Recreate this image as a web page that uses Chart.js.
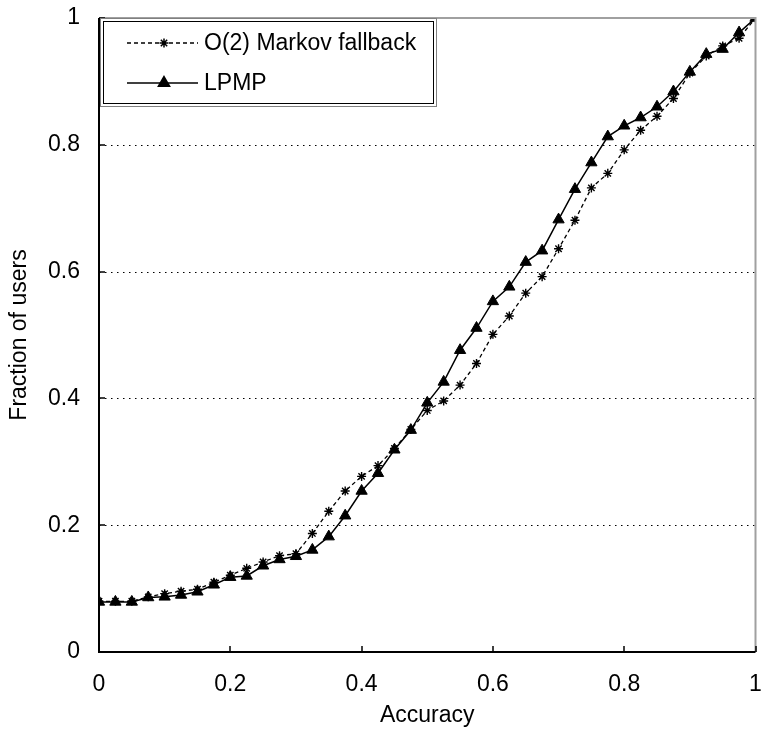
<!DOCTYPE html>
<html>
<head>
<meta charset="utf-8">
<script src="https://cdn.jsdelivr.net/npm/chart.js@4.4.1/dist/chart.umd.min.js"></script>
<style>
  html, body { margin: 0; padding: 0; background: #fff; }
  #wrap { width: 763px; height: 731px; }
</style>
</head>
<body>
<div id="wrap"><canvas id="accChart" width="763" height="731"></canvas></div>
<script>
const accuracy = [0, 0.025, 0.05, 0.075, 0.1, 0.125, 0.15, 0.175, 0.2, 0.225, 0.25, 0.275, 0.3, 0.325, 0.35, 0.375, 0.4, 0.425, 0.45, 0.475, 0.5, 0.525, 0.55, 0.575, 0.6, 0.625, 0.65, 0.675, 0.7, 0.725, 0.75, 0.775, 0.8, 0.825, 0.85, 0.875, 0.9, 0.925, 0.95, 0.975, 1];
const markovFallback = [0.080, 0.080, 0.080, 0.087, 0.092, 0.096, 0.099, 0.110, 0.121, 0.132, 0.142, 0.152, 0.155, 0.187, 0.222, 0.254, 0.277, 0.294, 0.321, 0.351, 0.381, 0.396, 0.421, 0.455, 0.501, 0.530, 0.566, 0.592, 0.636, 0.681, 0.732, 0.755, 0.792, 0.823, 0.845, 0.873, 0.913, 0.940, 0.956, 0.968, 1.0];
const lpmp = [0.079, 0.079, 0.079, 0.086, 0.087, 0.090, 0.095, 0.106, 0.118, 0.120, 0.136, 0.146, 0.151, 0.161, 0.182, 0.215, 0.254, 0.282, 0.319, 0.350, 0.393, 0.426, 0.476, 0.511, 0.553, 0.576, 0.615, 0.633, 0.682, 0.730, 0.772, 0.813, 0.830, 0.843, 0.860, 0.884, 0.915, 0.943, 0.951, 0.977, 1.0];
const xTicks = [0, 0.2, 0.4, 0.6, 0.8, 1];
const yTicks = [0, 0.2, 0.4, 0.6, 0.8, 1];
const gridValues = [0.2, 0.4, 0.6, 0.8];
const seriesNames = ['O(2) Markov fallback', 'LPMP'];

const font = { family: "'Liberation Sans', Arial, sans-serif", size: 23 };

function toPoints(ys) {
  return accuracy.map((x, i) => ({ x, y: ys[i] }));
}

// dotted grid, frame, inward ticks and the boxed legend
const framePlugin = {
  id: 'frame',
  beforeDatasetsDraw(chart) {
    const { ctx, chartArea: a, scales } = chart;
    ctx.save();
    ctx.strokeStyle = '#000';
    ctx.lineWidth = 1;
    ctx.setLineDash([1.5, 4.5]);
    gridValues.forEach(v => {
      const y = Math.round(scales.y.getPixelForValue(v)) + 0.5;
      ctx.beginPath();
      ctx.moveTo(a.left, y);
      ctx.lineTo(a.right, y);
      ctx.stroke();
    });
    ctx.restore();
  },
  afterDatasetsDraw(chart) {
    const { ctx, chartArea: a, scales } = chart;
    ctx.save();
    ctx.lineWidth = 2;
    ctx.strokeStyle = '#a0a0a0';
    ctx.beginPath();
    ctx.moveTo(a.left, a.top);
    ctx.lineTo(a.right, a.top);
    ctx.lineTo(a.right, a.bottom);
    ctx.stroke();
    ctx.strokeStyle = '#000';
    ctx.beginPath();
    ctx.moveTo(a.left, a.top);
    ctx.lineTo(a.left, a.bottom);
    ctx.lineTo(a.right, a.bottom);
    ctx.stroke();
    ctx.lineWidth = 1.5;
    xTicks.forEach(v => {
      const x = Math.round(scales.x.getPixelForValue(v));
      ctx.beginPath();
      ctx.moveTo(x, a.bottom);
      ctx.lineTo(x, a.bottom - 6);
      ctx.stroke();
    });
    yTicks.forEach(v => {
      const y = Math.round(scales.y.getPixelForValue(v));
      ctx.beginPath();
      ctx.moveTo(a.left, y);
      ctx.lineTo(a.left + 6, y);
      ctx.stroke();
    });
    ctx.restore();
  },
  afterDraw(chart) {
    const { ctx } = chart;
    const box = { left: 100, top: 18, right: 436, bottom: 106 };
    ctx.save();
    ctx.fillStyle = '#fff';
    ctx.fillRect(box.left, box.top, box.right - box.left, box.bottom - box.top);
    ctx.lineWidth = 1;
    ctx.strokeStyle = '#808080';
    ctx.strokeRect(box.left + 0.5, box.top + 0.5, box.right - box.left, box.bottom - box.top);
    ctx.strokeStyle = '#000';
    ctx.strokeRect(box.left + 3.5, box.top + 3.5, box.right - box.left - 6, box.bottom - box.top - 6);
    const rows = [43, 83];
    chart.data.datasets.forEach((ds, i) => {
      const y = rows[i];
      ctx.strokeStyle = '#000';
      ctx.lineWidth = 1.5;
      ctx.setLineDash(ds.borderDash || []);
      ctx.beginPath();
      ctx.moveTo(127, y);
      ctx.lineTo(198, y);
      ctx.stroke();
      ctx.setLineDash([]);
      Chart.helpers.drawPoint(ctx, {
        pointStyle: ds.pointStyle, radius: ds.pointRadius, borderWidth: 1.2, rotation: 0
      }, 164, y);
      ctx.fillStyle = '#000';
      ctx.font = `${font.size}px ${font.family}`;
      ctx.textBaseline = 'middle';
      ctx.fillText(ds.label, 204, y + 1);
    });
    ctx.restore();
  }
};

new Chart(document.getElementById('accChart'), {
  type: 'scatter',
  data: {
    datasets: [
      {
        label: seriesNames[0], data: toPoints(markovFallback), showLine: true,
        borderColor: '#000', backgroundColor: '#000', borderWidth: 1.3, borderDash: [4, 3],
        pointStyle: 'star', pointRadius: 4.5, pointBorderWidth: 1.4,
        pointBorderColor: '#000', pointBackgroundColor: '#000'
      },
      {
        label: seriesNames[1], data: toPoints(lpmp), showLine: true,
        borderColor: '#000', backgroundColor: '#000', borderWidth: 1.5,
        pointStyle: 'triangle', pointRadius: 6.5, pointBorderWidth: 1,
        pointBorderColor: '#000', pointBackgroundColor: '#000'
      }
    ]
  },
  options: {
    responsive: false,
    animation: false,
    devicePixelRatio: 1,
    layout: { padding: { left: 0, top: 18, right: 4, bottom: 0 } },
    plugins: { legend: { display: false }, tooltip: { enabled: false } },
    scales: {
      x: {
        type: 'linear', min: 0, max: 1,
        afterBuildTicks: s => { s.ticks = xTicks.map(v => ({ value: v })); },
        afterFit: s => { s.height = 79; s.paddingLeft = 0; s.paddingRight = 0; },
        grid: { display: false, drawTicks: false },
        border: { display: false },
        ticks: { font, color: '#000', padding: 19, maxRotation: 0, callback: v => String(v) },
        title: { display: true, text: 'Accuracy', font, color: '#000', padding: { top: 0, bottom: 2 } }
      },
      y: {
        type: 'linear', min: 0, max: 1,
        afterBuildTicks: s => { s.ticks = yTicks.map(v => ({ value: v })); },
        afterFit: s => { s.width = 99; s.paddingTop = 0; s.paddingBottom = 0; },
        grid: { display: false, drawTicks: false },
        border: { display: false },
        ticks: { font, color: '#000', padding: 19, callback: v => String(v) },
        title: { display: true, text: 'Fraction of users', font, color: '#000', padding: { top: 6, bottom: 0 } }
      }
    }
  },
  plugins: [framePlugin]
});
</script>
</body>
</html>
